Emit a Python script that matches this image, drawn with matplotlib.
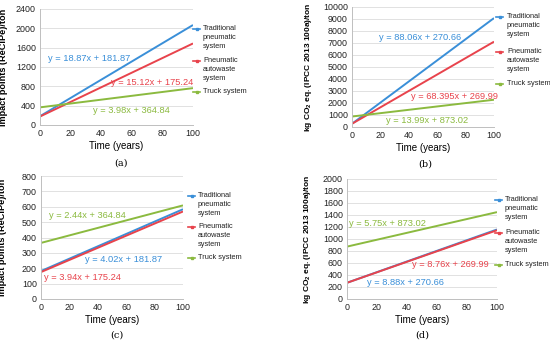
import matplotlib
matplotlib.use("Agg")
import matplotlib.pyplot as plt
from matplotlib.lines import Line2D

plt.rcParams['font.family'] = ['Liberation Sans', 'DejaVu Sans']
plt.rcParams['mathtext.fontset'] = 'custom'
plt.rcParams['mathtext.rm'] = 'Liberation Sans'
plt.rcParams['mathtext.bf'] = 'Liberation Sans:bold'

# ---------------- data ----------------
years = [0, 100]
series_names = ["Traditional\npneumatic\nsystem", "Pneumatic\nautowaste\nsystem", "Truck system"]
colors = ["#3a8fd8", "#e8434c", "#8bba3f"]

# values read at year 0 and year 100
a_trad = [181.87, 2068.87]
a_pneu = [175.24, 1687.24]
a_truck = [364.84, 762.84]
a_eqs = ["y = 18.87x + 181.87", "y = 15.12x + 175.24", "y = 3.98x + 364.84"]

b_trad = [270.66, 9076.66]
b_pneu = [269.99, 7109.49]
b_truck = [873.02, 2272.02]
b_eqs = ["y = 88.06x + 270.66", "y = 68.395x + 269.99", "y = 13.99x + 873.02"]

c_trad = [181.87, 583.87]
c_pneu = [175.24, 569.24]
c_truck = [364.84, 608.84]
c_eqs = ["y = 4.02x + 181.87", "y = 3.94x + 175.24", "y = 2.44x + 364.84"]

d_trad = [270.66, 1158.66]
d_pneu = [269.99, 1145.99]
d_truck = [873.02, 1448.02]
d_eqs = ["y = 8.88x + 270.66", "y = 8.76x + 269.99", "y = 5.75x + 873.02"]

xticks = [0, 20, 40, 60, 80, 100]
a_yticks = list(range(0, 2401, 400))
b_yticks = list(range(0, 10001, 1000))
c_yticks = list(range(0, 801, 100))
d_yticks = list(range(0, 2001, 200))

ylab_recipe = "Impact points (ReCiPe)/ton"
ylab_co2 = r"kg CO$\mathbf{_2}$ eq. (IPCC 2013 100a)/ton"
xlab = "Time (years)"
captions = ["(a)", "(b)", "(c)", "(d)"]

W, H = 550, 344
fig = plt.figure(figsize=(W / 100, H / 100), dpi=100)


def px_axes(l, r, t, b):
    return fig.add_axes([l / W, (H - b) / H, (r - l) / W, (b - t) / H])


panels = [
    dict(box=(40, 193, 9, 125), data=(a_trad, a_pneu, a_truck), eqs=a_eqs,
         eqpos=[(32, 1386), (73, 869), (60, 310)], yticks=a_yticks, ylab=ylab_recipe,
         ylx=8, ylfs=6.6, leg=(196, 203, [29, 61, 92]), cap=(121, 163)),
    dict(box=(352, 494, 7, 127), data=(b_trad, b_pneu, b_truck), eqs=b_eqs,
         eqpos=[(48, 7417), (72.5, 2583), (53, 583)], yticks=b_yticks, ylab=ylab_co2,
         ylx=314, ylfs=6.0, leg=(499, 507, [17, 52, 84]), cap=(425, 164)),
    dict(box=(41, 183, 176, 299), data=(c_trad, c_pneu, c_truck), eqs=c_eqs,
         eqpos=[(58, 260), (29, 137), (33, 546)], yticks=c_yticks, ylab=ylab_recipe,
         ylx=7.5, ylfs=6.6, leg=(191, 198, [196, 227, 258]), cap=(117, 335)),
    dict(box=(347, 497, 179, 299), data=(d_trad, d_pneu, d_truck), eqs=d_eqs,
         eqpos=[(39, 283), (69, 567), (27, 1250)], yticks=d_yticks, ylab=ylab_co2,
         ylx=313, ylfs=6.0, leg=(498, 505, [200, 233, 265]), cap=(422, 335)),
]

tick_fs = 6.4
for i, p in enumerate(panels):
    l, r, t, b = p["box"]
    ax = px_axes(l, r, t, b)
    for vals, col in zip(p["data"], colors):
        ax.plot(years, vals, color=col, lw=1.4, solid_capstyle="butt")
    for eq, (ex, ey), col in zip(p["eqs"], p["eqpos"], colors):
        ax.text(ex, ey, eq, color=col, fontsize=6.7, ha="center", va="center")
    ax.set_xlim(0, 100)
    ax.set_ylim(p["yticks"][0], p["yticks"][-1])
    ax.set_xticks(xticks)
    ax.set_yticks(p["yticks"])
    ax.tick_params(length=0, labelsize=tick_fs, pad=3, colors="#222222")
    ax.grid(axis="y", color="#dcdcdc", lw=0.6)
    ax.set_axisbelow(True)
    for s in ["top", "right"]:
        ax.spines[s].set_visible(False)
    ax.spines["left"].set_color("#bfbfbf")
    ax.spines["bottom"].set_color("#bfbfbf")
    ax.spines["left"].set_linewidth(0.7)
    ax.spines["bottom"].set_linewidth(0.7)
    ax.set_ylabel(p["ylab"], fontsize=p["ylfs"], fontweight="bold")
    ax.yaxis.set_label_coords((p["ylx"] - l) / (r - l), 0.5)
    ax.set_xlabel(xlab, fontsize=7.0)
    ax.xaxis.set_label_coords(0.5, -16 / (b - t))
    # legend
    mx, tx, ys = p["leg"]
    for name, col, yy in zip(series_names, colors, ys):
        fy = (H - yy) / H
        fig.add_artist(Line2D([(mx - 3) / W, (mx + 4) / W], [fy, fy], color=col, lw=1.2))
        fig.add_artist(Line2D([(mx + 0.5) / W], [fy], color=col, marker="s", ms=1.6, lw=0))
        fig.text(tx / W, (H - yy + 4.2) / H, name, fontsize=5.3, va="top", ha="left",
                 linespacing=1.38, color="#222222")
    cx, cy = p["cap"]
    fig.text(cx / W, (H - cy) / H, captions[i], fontsize=7, ha="center", va="center",
             family="DejaVu Serif")

fig.savefig("out.png", dpi=100)
